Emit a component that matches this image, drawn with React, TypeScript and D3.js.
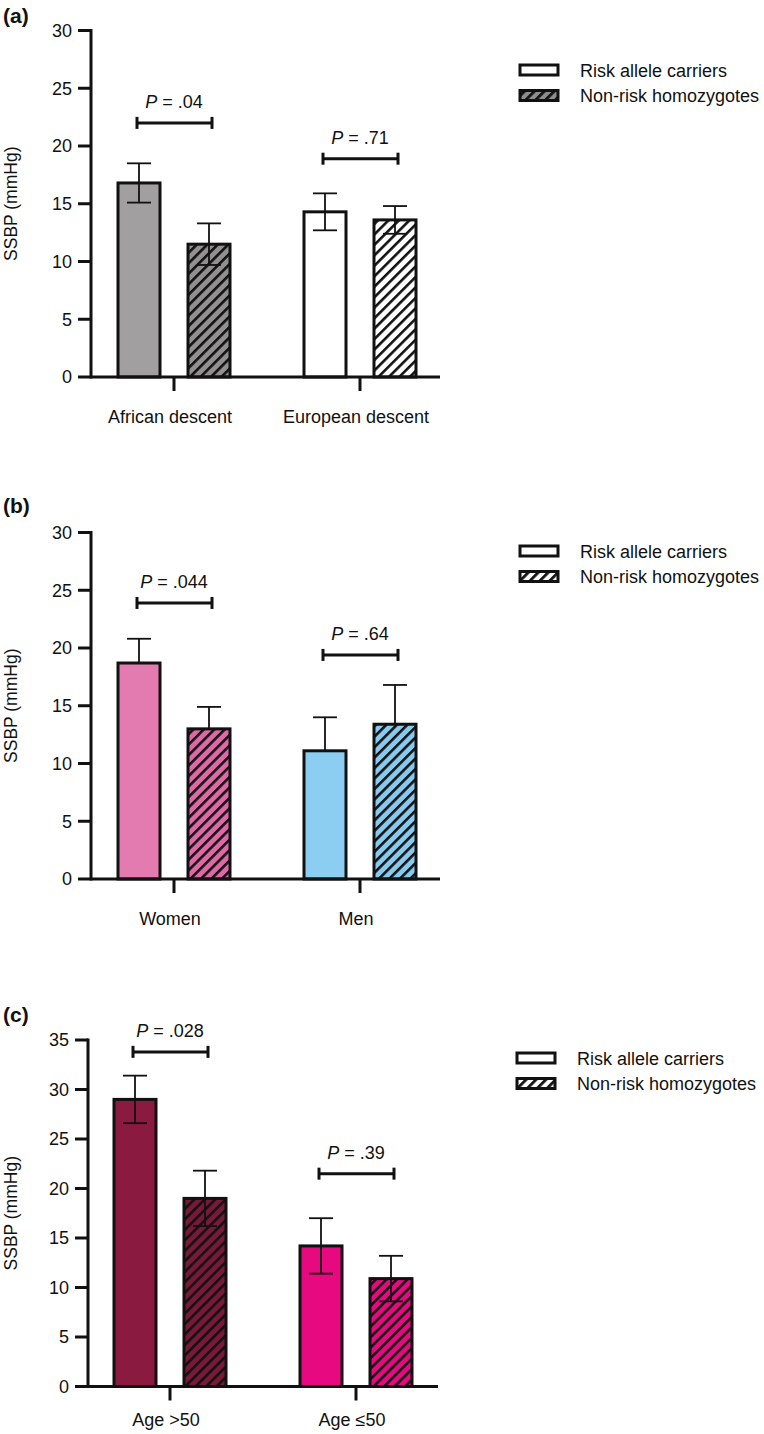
import React from "react";
import * as d3 from "d3";

const FONT = "'Liberation Sans', Arial, Helvetica, sans-serif";

const seriesNames = ["Risk allele carriers", "Non-risk homozygotes"];
const seriesKeys = ["risk", "nonrisk"];

// Panel (a)
const catA = ["African descent", "European descent"];
const riskMeanA = [16.8, 14.3];
const riskErrA = [1.7, 1.6];
const nonMeanA = [11.5, 13.6];
const nonErrA = [1.8, 1.2];
const pA = [".04", ".71"];
const bracketA = [22.0, 18.9];
const colorsA = ["#a19f9f", "#ffffff"];
const hatchBgA = ["#929090", "#ffffff"];

// Panel (b)
const catB = ["Women", "Men"];
const riskMeanB = [18.7, 11.1];
const riskErrB = [2.1, 2.9];
const nonMeanB = [13.0, 13.4];
const nonErrB = [1.9, 3.4];
const pB = [".044", ".64"];
const bracketB = [23.9, 19.4];
const colorsB = ["#e37bb1", "#8ccef1"];
const hatchBgB = ["#e068a6", "#86cbef"];

// Panel (c)
const catC = ["Age >50", "Age \u226450"];
const riskMeanC = [29.0, 14.2];
const riskErrC = [2.4, 2.8];
const nonMeanC = [19.0, 10.9];
const nonErrC = [2.8, 2.3];
const pC = [".028", ".39"];
const bracketC = [33.8, 21.5];
const colorsC = ["#8a1a3f", "#e6097f"];
const hatchBgC = ["#7a1838", "#e6097f"];

const yTicksAB = [0, 5, 10, 15, 20, 25, 30];
const yTicksC = [0, 5, 10, 15, 20, 25, 30, 35];

type Panel = {
  id: string;
  label: string;
  cats: string[];
  riskMean: number[];
  riskErr: number[];
  nonMean: number[];
  nonErr: number[];
  p: string[];
  bracket: number[];
  colors: string[];
  hatchBg: string[];
  ticks: number[];
  axisX: number;
  y0: number;
  yTop: number;
  xEnd: number;
  firstCenter: number;
  groupGap: number;
  errLower: boolean;
  labelY: number;
  catLabelDy: number;
  legendX: number;
  legendY: number;
  legendHatchBg: string;
};

const panels: Panel[] = [
  {
    id: "a", label: "(a)", cats: catA, riskMean: riskMeanA, riskErr: riskErrA,
    nonMean: nonMeanA, nonErr: nonErrA, p: pA, bracket: bracketA, colors: colorsA,
    hatchBg: hatchBgA,
    ticks: yTicksAB, axisX: 91, y0: 377, yTop: 30.5, xEnd: 440, firstCenter: 174,
    groupGap: 186, errLower: true, labelY: 23, catLabelDy: 46, legendX: 519,
    legendY: 64, legendHatchBg: "#8f8d8d",
  },
  {
    id: "b", label: "(b)", cats: catB, riskMean: riskMeanB, riskErr: riskErrB,
    nonMean: nonMeanB, nonErr: nonErrB, p: pB, bracket: bracketB, colors: colorsB,
    hatchBg: hatchBgB,
    ticks: yTicksAB, axisX: 91, y0: 879, yTop: 532.5, xEnd: 440, firstCenter: 174,
    groupGap: 186, errLower: false, labelY: 513, catLabelDy: 46, legendX: 519,
    legendY: 545, legendHatchBg: "#ffffff",
  },
  {
    id: "c", label: "(c)", cats: catC, riskMean: riskMeanC, riskErr: riskErrC,
    nonMean: nonMeanC, nonErr: nonErrC, p: pC, bracket: bracketC, colors: colorsC,
    hatchBg: hatchBgC,
    ticks: yTicksC, axisX: 88, y0: 1386.5, yTop: 1040, xEnd: 438, firstCenter: 170,
    groupGap: 186, errLower: true, labelY: 1022, catLabelDy: 39, legendX: 516,
    legendY: 1052, legendHatchBg: "#ffffff",
  },
];

function PanelView({ P }: { P: Panel }) {
  const maxV = P.ticks[P.ticks.length - 1];
  const y = d3.scaleLinear().domain([0, maxV]).range([P.y0, P.yTop]);
  const x = d3
    .scalePoint<string>()
    .domain(P.cats)
    .range([P.firstCenter, P.firstCenter + P.groupGap]);
  const inner = d3.scalePoint<string>().domain(seriesKeys).range([-35, 35]);
  const barW = 42;
  const capW = 24;
  const ew = 1.8;

  const bars: any[] = [];
  P.cats.forEach((c, i) => {
    seriesKeys.forEach((k, j) => {
      const mean = j === 0 ? P.riskMean[i] : P.nonMean[i];
      const err = j === 0 ? P.riskErr[i] : P.nonErr[i];
      const cx = (x(c) as number) + (inner(k) as number);
      const fill = j === 0 ? P.colors[i] : `url(#hatch-${P.id}-${i})`;
      bars.push({ key: `${c}-${k}`, cx, mean, err, fill });
    });
  });

  return (
    <g>
      <defs>
        {P.hatchBg.map((col, i) => (
          <pattern
            key={i}
            id={`hatch-${P.id}-${i}`}
            patternUnits="userSpaceOnUse"
            width={7.4}
            height={7.4}
            patternTransform="rotate(45)"
          >
            <rect width={7.4} height={7.4} fill={col} />
            <line x1={1.3} y1={-1} x2={1.3} y2={9} stroke="#111" strokeWidth={2.6} />
          </pattern>
        ))}
        <pattern
          id={`hatch-leg-${P.id}`}
          patternUnits="userSpaceOnUse"
          width={7}
          height={7}
          patternTransform="rotate(45)"
        >
          <rect width={7} height={7} fill={P.legendHatchBg} />
          <line x1={1.3} y1={-1} x2={1.3} y2={8} stroke="#111" strokeWidth={3} />
        </pattern>
      </defs>

      {/* panel label */}
      <text x={3} y={P.labelY} fontFamily={FONT} fontWeight="bold" fontSize={21} fill="#111">
        {P.label}
      </text>

      {/* y axis title */}
      <text
        transform={`translate(17, ${(P.y0 + P.yTop) / 2}) rotate(-90)`}
        textAnchor="middle"
        fontFamily={FONT}
        fontSize={17.5}
        fill="#111"
      >
        SSBP (mmHg)
      </text>

      {/* bars */}
      {bars.map((b) => (
        <g key={b.key}>
          <rect
            x={b.cx - barW / 2}
            y={y(b.mean)}
            width={barW}
            height={P.y0 - y(b.mean)}
            fill={b.fill}
            stroke="#111"
            strokeWidth={3}
          />
          <line x1={b.cx} x2={b.cx} y1={y(b.mean + b.err)} y2={P.errLower ? y(b.mean - b.err) : y(b.mean)} stroke="#111" strokeWidth={ew} />
          <line x1={b.cx - capW / 2} x2={b.cx + capW / 2} y1={y(b.mean + b.err)} y2={y(b.mean + b.err)} stroke="#111" strokeWidth={ew} />
          {P.errLower && (
            <line x1={b.cx - capW / 2} x2={b.cx + capW / 2} y1={y(b.mean - b.err)} y2={y(b.mean - b.err)} stroke="#111" strokeWidth={ew} />
          )}
        </g>
      ))}

      {/* y axis */}
      <line x1={P.axisX} x2={P.axisX} y1={P.yTop - 1.5} y2={P.y0 + 1.5} stroke="#111" strokeWidth={3} />
      {P.ticks.map((t) => (
        <g key={t}>
          <line x1={P.axisX - 13} x2={P.axisX} y1={y(t)} y2={y(t)} stroke="#111" strokeWidth={3} />
          <text
            x={P.axisX - 19}
            y={y(t)}
            dy="0.36em"
            textAnchor="end"
            fontFamily={FONT}
            fontSize={18}
            fill="#111"
          >
            {t}
          </text>
        </g>
      ))}

      {/* x axis */}
      <line x1={P.axisX} x2={P.xEnd} y1={P.y0} y2={P.y0} stroke="#111" strokeWidth={3} />
      {P.cats.map((c) => (
        <g key={c}>
          <line x1={x(c)} x2={x(c)} y1={P.y0} y2={P.y0 + 14} stroke="#111" strokeWidth={3} />
          <text
            x={(x(c) as number) - 4}
            y={P.y0 + P.catLabelDy}
            textAnchor="middle"
            fontFamily={FONT}
            fontSize={18}
            fill="#111"
          >
            {c}
          </text>
        </g>
      ))}

      {/* significance brackets */}
      {P.cats.map((c, i) => {
        const cx = x(c) as number;
        const by = y(P.bracket[i]);
        return (
          <g key={`br-${c}`}>
            <line x1={cx - 37} x2={cx + 38} y1={by} y2={by} stroke="#111" strokeWidth={3} />
            <line x1={cx - 37} x2={cx - 37} y1={by - 6} y2={by + 6} stroke="#111" strokeWidth={3} />
            <line x1={cx + 38} x2={cx + 38} y1={by - 6} y2={by + 6} stroke="#111" strokeWidth={3} />
            <text x={cx} y={by - 15} textAnchor="middle" fontFamily={FONT} fontSize={18} fill="#111">
              <tspan fontStyle="italic">P</tspan>
              <tspan> = {P.p[i]}</tspan>
            </text>
          </g>
        );
      })}

      {/* legend */}
      {seriesNames.map((s, j) => {
        const ly = P.legendY + j * 25.5;
        return (
          <g key={s}>
            <rect
              x={P.legendX + 1}
              y={ly + 1}
              width={38}
              height={10}
              fill={j === 0 ? "#ffffff" : `url(#hatch-leg-${P.id})`}
              stroke="#111"
              strokeWidth={3}
            />
            <text x={P.legendX + 61} y={ly + 12.5} fontFamily={FONT} fontSize={18} fill="#111">
              {s}
            </text>
          </g>
        );
      })}
    </g>
  );
}

export default function App() {
  return (
    <svg
      width={764}
      height={1434}
      viewBox="0 0 764 1434"
      style={{ position: "absolute", left: 0, top: 0, background: "#ffffff" }}
    >
      <rect width={764} height={1434} fill="#ffffff" />
      {panels.map((P) => (
        <PanelView key={P.id} P={P} />
      ))}
    </svg>
  );
}
